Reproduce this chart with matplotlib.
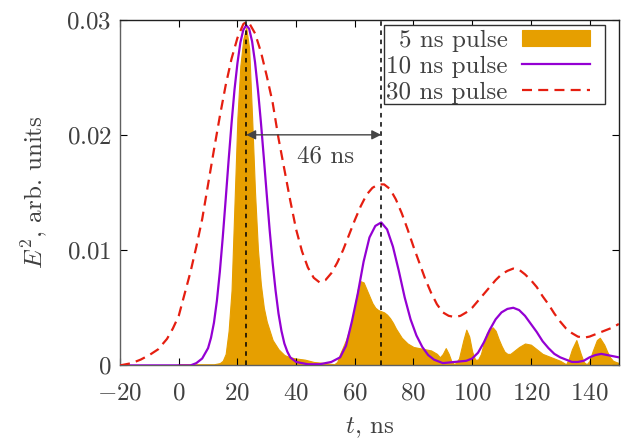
import matplotlib
matplotlib.use('Agg')
import matplotlib.pyplot as plt
from matplotlib.patches import Rectangle

# 5 ns pulse (filled)
t5 = [-20, -1, 0, 12, 14, 15, 16, 17, 18, 19, 20, 21, 22, 23, 24, 25, 26, 27, 28, 29,
      30, 32, 34, 36, 38, 40, 43, 46, 50, 53, 54, 55, 56, 57, 58, 59, 60, 61, 62, 63,
      64, 65, 66, 67, 68, 69, 70, 71, 72, 73, 74, 75, 76, 78, 80, 82, 84, 86, 88, 89,
      90, 91, 92, 93, 94, 95.5, 97, 98, 99, 100, 101, 102, 103, 104, 105, 106, 107, 108, 109, 110,
      111, 112, 113, 114, 116, 118, 120, 122, 124, 126, 128, 130, 132, 133, 134, 135.5, 137, 138, 139, 140,
      141, 142.5, 143.5, 145, 146, 147, 148, 150]
e5 = [0, 0, 0.0001, 0.0001, 0.0002, 0.0004, 0.0010, 0.0030, 0.0065, 0.0140, 0.0215, 0.0260, 0.0283, 0.0293, 0.0275, 0.0215, 0.0150, 0.0100, 0.0070, 0.0050,
      0.0038, 0.0022, 0.0014, 0.0009, 0.0007, 0.0006, 0.0005, 0.0003, 0.0002, 0.0001, 0.0003, 0.0010, 0.0016, 0.0022, 0.0030, 0.0038, 0.0052, 0.0066, 0.0073, 0.0072,
      0.0066, 0.0060, 0.0054, 0.0050, 0.0048, 0.0047, 0.0046, 0.0044, 0.0041, 0.0037, 0.0032, 0.0028, 0.0024, 0.0019, 0.0016, 0.0015, 0.0014, 0.0013, 0.0010, 0.0007,
      0.0010, 0.0015, 0.0010, 0.0003, 0.0001, 0.0006, 0.0022, 0.0031, 0.0025, 0.0012, 0.0005, 0.0005, 0.0010, 0.0020, 0.0028, 0.0032, 0.0033, 0.0030, 0.0023, 0.0017,
      0.0012, 0.0010, 0.0010, 0.0012, 0.0016, 0.0019, 0.0018, 0.0014, 0.0010, 0.0008, 0.0006, 0.0004, 0.0001, 0.0006, 0.0014, 0.0022, 0.0010, 0.0003, 0.0001, 0.0004,
      0.0012, 0.0022, 0.0024, 0.0018, 0.0012, 0.0007, 0.0004, 0.0002]

# 10 ns pulse
t10 = [-20, 0, 4, 6, 8, 10, 11, 12, 13, 14, 15, 16, 17, 18, 19, 20, 21, 22, 23, 24,
       25, 26, 27, 28, 29, 30, 31, 32, 33, 34, 35, 36, 37, 38, 40, 44, 48, 52, 55, 57,
       59, 61, 63, 65, 67, 69, 71, 73, 75, 77, 79, 81, 83, 85, 87, 90, 94, 98, 100, 102,
       104, 106, 108, 110, 112, 114, 116, 118, 120, 122, 124, 126, 128, 130, 132, 134, 136, 138, 140, 142,
       144, 146, 148, 150]
e10 = [0, 0, 0, 0.0002, 0.0006, 0.0015, 0.0024, 0.0037, 0.0056, 0.0081, 0.0111, 0.0144, 0.0178, 0.0210, 0.0239, 0.0262, 0.0280, 0.0291, 0.0295, 0.0292,
       0.0281, 0.0263, 0.0239, 0.0211, 0.0180, 0.0148, 0.0117, 0.0089, 0.0065, 0.0045, 0.0030, 0.0019, 0.0012, 0.0007, 0.0003, 0.0001, 0.0001, 0.0003, 0.0007, 0.0017,
       0.0038, 0.0062, 0.0090, 0.0111, 0.0121, 0.0124, 0.0118, 0.0103, 0.0082, 0.0059, 0.0040, 0.0026, 0.0016, 0.0009, 0.0005, 0.0002, 0.0003, 0.0004, 0.0006, 0.0011,
       0.0020, 0.0031, 0.0040, 0.0046, 0.0049, 0.0050, 0.0048, 0.0043, 0.0036, 0.0029, 0.0021, 0.0015, 0.0010, 0.0007, 0.0005, 0.0003, 0.0003, 0.0004, 0.0007, 0.0009,
       0.0010, 0.0009, 0.0008, 0.0007]

# 30 ns pulse
t30 = [-20, -16, -13, -10, -7, -4, -2, 0, 2, 4, 6, 8, 10, 12, 14, 16, 18, 20, 22, 23,
       24, 26, 28, 30, 32, 34, 36, 38, 40, 42, 44, 46, 48, 50, 52, 54, 56, 58, 60, 62,
       64, 66, 68, 70, 72, 74, 76, 78, 80, 82, 84, 86, 88, 90, 92, 94, 96, 98, 100, 102,
       104, 106, 108, 110, 112, 114, 116, 118, 120, 122, 124, 126, 128, 130, 132, 134, 136, 138, 140, 142,
       144, 146, 148, 150]
e30 = [0.0000, 0.0002, 0.0005, 0.0009, 0.0014, 0.0023, 0.0032, 0.0043, 0.0062, 0.0081, 0.0103, 0.0127, 0.0157, 0.0187, 0.0216, 0.0243, 0.0266, 0.0284, 0.0296, 0.0298,
       0.0297, 0.0288, 0.0272, 0.0251, 0.0228, 0.0197, 0.0170, 0.0143, 0.0118, 0.0099, 0.0085, 0.0076, 0.0072, 0.0074, 0.0080, 0.0089, 0.0100, 0.0113, 0.0126, 0.0138,
       0.0148, 0.0154, 0.0157, 0.0157, 0.0153, 0.0144, 0.0132, 0.0118, 0.0103, 0.0089, 0.0075, 0.0063, 0.0053, 0.0046, 0.0043, 0.0042, 0.0043, 0.0046, 0.0050, 0.0056,
       0.0062, 0.0068, 0.0074, 0.0079, 0.0082, 0.0084, 0.0083, 0.0079, 0.0074, 0.0068, 0.0060, 0.0053, 0.0045, 0.0038, 0.0032, 0.0028, 0.0025, 0.0024, 0.0025, 0.0027,
       0.0029, 0.0031, 0.0033, 0.0036]

peak_times = [23, 69]
delay_label = '46 ns'
labels = ['5 ns pulse', '10 ns pulse', '30 ns pulse']
xticks = [-20, 0, 20, 40, 60, 80, 100, 120, 140]
yticks = [0, 0.01, 0.02, 0.03]
ytick_labels = ['0', '0.01', '0.02', '0.03']

plt.rcParams['font.family'] = 'serif'
plt.rcParams['font.serif'] = ['cmr10']
plt.rcParams['mathtext.fontset'] = 'cm'
plt.rcParams['axes.unicode_minus'] = True

text_col = '#404040'
fs = 18

fig = plt.figure(figsize=(6.22, 4.44), dpi=100)
ax = fig.add_axes([0.193, 0.177, 0.802, 0.779])

ax.fill_between(t5, 0, e5, color='#e69f00', lw=0.8, label=labels[0], zorder=1)
ax.plot(t10, e10, color='#9400d3', lw=1.6, label=labels[1], zorder=3)
ax.plot(t30, e30, color='#e51e10', lw=1.6, dashes=(4.5, 2.8), label=labels[2], zorder=4)

for tp in peak_times:
    ax.plot([tp, tp], [0, 0.03], color='black', lw=1.1, dashes=(3, 3), zorder=5)

ax.annotate('', xy=(peak_times[0], 0.02), xytext=(peak_times[1], 0.02),
            arrowprops=dict(arrowstyle='<|-|>', color='#444444', lw=1.0,
                            mutation_scale=14, shrinkA=0, shrinkB=0), zorder=6)
ax.text(50, 0.0181, delay_label, ha='center', va='center', fontsize=fs, color=text_col)

ax.set_xlim(-20, 150)
ax.set_ylim(0, 0.03)
ax.set_xticks(xticks)
ax.set_xticklabels(['$%d$' % v for v in xticks], fontsize=fs, color=text_col)
ax.set_yticks(yticks)
ax.set_yticklabels(['$%s$' % s for s in ytick_labels], fontsize=fs, color=text_col)
ax.tick_params(direction='in', length=5, width=0.8, top=True, right=True)
ax.tick_params(axis='x', pad=12)
ax.tick_params(axis='y', pad=6)

for side in ['left', 'bottom']:
    ax.spines[side].set_color('#606060')
for side in ['top', 'right']:
    ax.spines[side].set_color('#202020')
for sp in ax.spines.values():
    sp.set_linewidth(1.0)

ax.set_xlabel('$t$, ns', fontsize=fs, color=text_col, labelpad=8)
ax.set_ylabel('$E^2$, arb. units', fontsize=fs, color=text_col, labelpad=12)

# gnuplot-like key: right-aligned labels, samples on the right, box with extra room
leg = ax.legend(loc='upper right', bbox_to_anchor=(0.947, 0.978), borderaxespad=0,
                markerfirst=False, frameon=False,
                fontsize=fs, handlelength=2.7, handleheight=0.65, labelspacing=0.16,
                borderpad=0.1, handletextpad=0.6)
for txt in leg.get_texts():
    txt.set_color(text_col)
leg.set_zorder(10)
key_box = Rectangle((0.529, 0.756), 0.443, 0.228, transform=ax.transAxes,
                    facecolor='white', edgecolor='#303030', lw=1.0, zorder=9)
ax.add_patch(key_box)

fig.savefig('out.png', dpi=100)
